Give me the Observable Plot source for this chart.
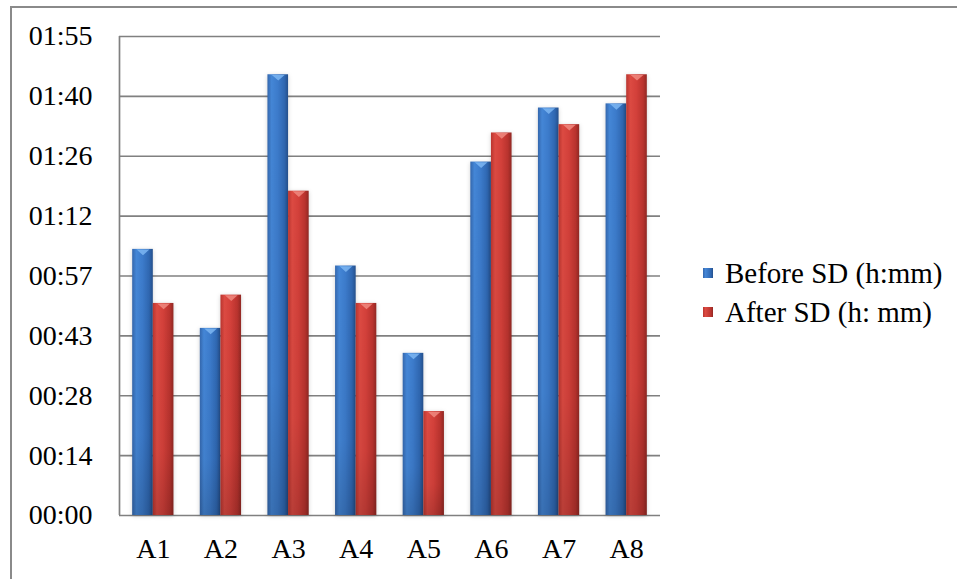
<!DOCTYPE html>
<html>
<head>
<meta charset="utf-8">
<script src="https://cdn.jsdelivr.net/npm/d3@7"></script>
<script src="https://cdn.jsdelivr.net/npm/@observablehq/plot@0.6"></script>
<style>
  html, body { margin: 0; padding: 0; background: #fff; }
  #wrap { position: relative; width: 957px; height: 579px; overflow: hidden;
          font-family: "Liberation Serif", LiberationSerif, Tinos, "Times New Roman", Times, "DejaVu Serif", "Noto Serif", serif; color: #000; }
  #border { position: absolute; left: 10px; top: 6px; width: 1200px; height: 900px;
            border-left: 2px solid #8a8a8a; border-top: 2px solid #8a8a8a; box-sizing: border-box; }
  #chart { position: absolute; left: 0; top: 0; }
  .lg-row { position: absolute; left: 703px; height: 34px; line-height: 34px;
            display: flex; align-items: center; font-size: 29px; white-space: nowrap; }
  .lg-sw { width: 10px; height: 10px; margin-right: 12px; flex: none; }
</style>
</head>
<body>
<div id="wrap">
  <div id="border"></div>
  <div id="chart"></div>
  <div id="legend"></div>
</div>
<script>
// ---- data (minutes) ----
const categories = ["A1", "A2", "A3", "A4", "A5", "A6", "A7", "A8"];
const seriesNames = ["Before SD (h:mm)", "After SD (h: mm)"];
const beforeMin = [64, 45, 106, 60, 39, 85, 98, 99];
const afterMin  = [51, 53, 78, 51, 25, 92, 94, 106];
const yTicks = [0, 14.4, 28.8, 43.2, 57.6, 72, 86.4, 100.8, 115.2];
const yTickLabels = ["00:00", "00:14", "00:28", "00:43", "00:57", "01:12", "01:26", "01:40", "01:55"];

// ---- table ----
const rows = [];
categories.forEach((c, i) => {
  rows.push({cat: c, i, s: 0, value: beforeMin[i]});
  rows.push({cat: c, i, s: 1, value: afterMin[i]});
});
const GAP = 0.195;               // half of the gap between groups, in category units
const BW = (1 - 2 * GAP) / 2;    // one bar's width, in category units
const x1 = d => d.i + GAP + d.s * BW;
const x2 = d => d.i + GAP + (d.s + 1) * BW;
const xc = d => (x1(d) + x2(d)) / 2;
const blueRows = rows.filter(d => d.s === 0);
const redRows = rows.filter(d => d.s === 1);

const capSymbol = {
  draw(ctx, size) {
    const s = Math.sqrt(size);
    ctx.moveTo(-s, -s * 0.45);
    ctx.lineTo(s, -s * 0.45);
    ctx.lineTo(0, s * 0.45);
    ctx.closePath();
  }
};

const FONT = "'Liberation Serif', LiberationSerif, Tinos, 'Times New Roman', Times, 'DejaVu Serif', 'Noto Serif', serif";
const grid = "#808080";
const plot = Plot.plot({
  width: 957,
  height: 579,
  marginLeft: 119,
  marginRight: 297,
  marginTop: 36,
  marginBottom: 64,
  style: {fontFamily: FONT, fontSize: "28px", color: "#000", background: "transparent"},
  x: {domain: [0, categories.length], axis: null, label: null},
  y: {domain: [0, 115.2], axis: null, label: null},
  marks: [
    Plot.ruleY(yTicks, {stroke: grid, strokeWidth: 1.7}),
    Plot.ruleX([0], {stroke: grid, strokeWidth: 1.7}),
    Plot.rectY(blueRows, {x1, x2, y1: 0, y2: "value", fill: "url(#gBlue)"}),
    Plot.rectY(redRows, {x1, x2, y1: 0, y2: "value", fill: "url(#gRed)"}),
    Plot.rectY(rows, {x1, x2, y1: 0, y2: "value", fill: "url(#gShade)"}),
    Plot.dot(blueRows, {x: xc, y: "value", symbol: capSymbol, r: 3.6, fill: "#7cb6f2", fillOpacity: 0.85, stroke: "none", dy: 3}),
    Plot.dot(redRows, {x: xc, y: "value", symbol: capSymbol, r: 3.6, fill: "#f08a80", fillOpacity: 0.85, stroke: "none", dy: 3}),
    Plot.axisY({ticks: yTicks, tickFormat: d => yTickLabels[yTicks.indexOf(d)], tickSize: 0, tickPadding: 27, fontSize: 28, label: null, fontFamily: FONT}),
    Plot.axisX({ticks: categories.map((c, i) => i + 0.5), tickFormat: d => categories[Math.floor(d)], tickSize: 0, tickPadding: 23, fontSize: 28, label: null, fontFamily: FONT})
  ]
});

d3.select(plot).insert("defs", ":first-child").html(`
  <linearGradient id="gBlue" x1="0" x2="1" y1="0" y2="0">
    <stop offset="0" stop-color="#3467ad"/>
    <stop offset="0.2" stop-color="#4486d6"/>
    <stop offset="0.5" stop-color="#3c7bcb"/>
    <stop offset="0.82" stop-color="#2f67b1"/>
    <stop offset="1" stop-color="#25508c"/>
  </linearGradient>
  <linearGradient id="gRed" x1="0" x2="1" y1="0" y2="0">
    <stop offset="0" stop-color="#b9352f"/>
    <stop offset="0.2" stop-color="#dc4a42"/>
    <stop offset="0.5" stop-color="#d3403a"/>
    <stop offset="0.82" stop-color="#b9332e"/>
    <stop offset="1" stop-color="#912823"/>
  </linearGradient>
  <linearGradient id="gShade" x1="0" x2="0" y1="0" y2="1">
    <stop offset="0" stop-color="#000" stop-opacity="0"/>
    <stop offset="0.7" stop-color="#000" stop-opacity="0.04"/>
    <stop offset="1" stop-color="#000" stop-opacity="0.16"/>
  </linearGradient>
`);
d3.select(plot).selectAll('g[aria-label="rect"]').filter((d, i) => i < 2)
  .style("filter", "drop-shadow(0px 1px 2px rgba(0,0,0,0.18))");

document.getElementById("chart").appendChild(plot);

// ---- legend ----
const legendSwatch = ["linear-gradient(90deg,#3467ad,#4486d6 25%,#2f67b1 80%,#25508c)",
                      "linear-gradient(90deg,#b9352f,#dc4a42 25%,#b9332e 80%,#912823)"];
const legendTop = [256, 295];
const lg = document.getElementById("legend");
seriesNames.forEach((name, k) => {
  const row = document.createElement("div");
  row.className = "lg-row";
  row.style.top = legendTop[k] + "px";
  const sw = document.createElement("span");
  sw.className = "lg-sw";
  sw.style.background = legendSwatch[k];
  const tx = document.createElement("span");
  tx.textContent = name;
  row.appendChild(sw);
  row.appendChild(tx);
  lg.appendChild(row);
});
</script>
</body>
</html>
